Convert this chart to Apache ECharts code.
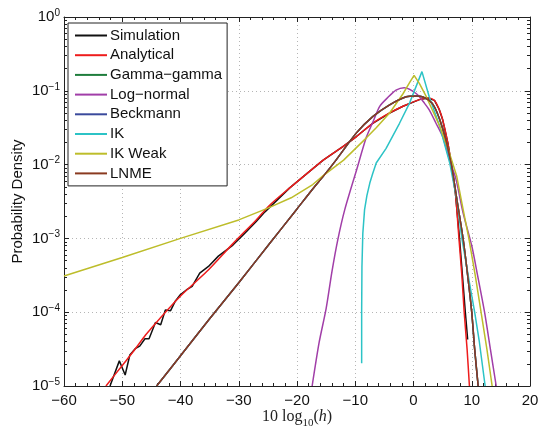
<!DOCTYPE html>
<html>
<head>
<meta charset="utf-8">
<script src="https://cdn.jsdelivr.net/npm/echarts@6/dist/echarts.min.js"></script>
<style>
html,body{margin:0;padding:0;background:#fff;}
#c{width:539px;height:428px;}
</style>
</head>
<body>
<div id="c"></div>
<script>
// ---- data (x in dB, y = probability density) ----
const simX = [-52.1,-50.5,-49.5,-48.7,-47.7,-47.0,-46.1,-45.4,-44.3,-43.4,-42.6,-41.7,-40.9,-40.1,-39.0,-38.0,-36.7,-35.2,-33.5,-31.0,-29.0,-27.0,-25.5,-21.3,-18,-15.5,-12,-9.8,-7,-4.1,-1.8,1.0,2.5,3.6,4.4,5.0,5.9,6.5,7.2,7.9,8.4,8.9,9.3];
const simY = [1.0e-5,2.19e-5,1.41e-5,2.63e-5,3.24e-5,3.47e-5,4.37e-5,4.37e-5,7.24e-5,6.76e-5,1.07e-4,1.05e-4,1.41e-4,1.70e-4,2.0e-4,2.24e-4,3.39e-4,4.17e-4,5.75e-4,8.13e-4,1.17e-3,1.70e-3,2.29e-3,4.8e-3,7.9e-3,1.15e-2,1.78e-2,2.4e-2,3.63e-2,5.0e-2,6.17e-2,7.59e-2,8.0e-2,7.41e-2,5.62e-2,4.07e-2,1.95e-2,1.0e-2,4.07e-3,1.0e-3,3.16e-4,1.0e-4,4.27e-5];

const anaX = [-52.8,-50,-48,-46,-43.5,-40,-35.5,-31,-27,-24.7,-21.3,-18,-15.5,-12,-9.8,-7,-4.1,-1.8,1.0,2.5,3.6,4.4,5.0,5.9,6.5,7.2,7.8,8.3,8.7,9.2,9.6];
const anaY = [1.0e-5,1.9e-5,3.0e-5,4.9e-5,8.3e-5,1.66e-4,3.55e-4,8.5e-4,1.78e-3,2.82e-3,4.8e-3,7.9e-3,1.15e-2,1.78e-2,2.4e-2,3.63e-2,5.01e-2,6.17e-2,7.59e-2,8.0e-2,7.41e-2,5.62e-2,4.07e-2,1.95e-2,1.0e-2,4.07e-3,1.0e-3,3.16e-4,1.0e-4,3.16e-5,1.0e-5];

// Gamma-gamma, Beckmann and LNME coincide in the reference
const lnmeX = [-44.1,-40,-35,-30,-24.7,-20.1,-17.3,-15.5,-13.3,-9.8,-7.0,-4.1,-1.25,0.5,1.5,2.7,3.6,4.5,5.5,6.5,7.4,8.5,9.3,10.0,10.5,11.1];
const lnmeY = [1.0e-5,2.57e-5,8.13e-5,2.51e-4,8.51e-4,2.45e-3,4.68e-3,6.92e-3,1.15e-2,2.69e-2,4.47e-2,6.46e-2,8.32e-2,8.51e-2,8.32e-2,7.41e-2,6.03e-2,4.07e-2,2.24e-2,1.0e-2,3.55e-3,1.0e-3,3.16e-4,1.0e-4,3.16e-5,1.0e-5];
const ggX = lnmeX, ggY = lnmeY;
const beckX = lnmeX, beckY = lnmeY;

const lnX = [-17.4,-16.2,-15.0,-14.0,-13.0,-11.8,-9.8,-8.1,-6.9,-5.8,-4.4,-3.0,-1.6,0.5,1.9,2.7,3.8,5.0,6.2,7.3,8.5,10.0,11.0,12.2,13.2,14.2];
const lnY = [1.0e-5,3.89e-5,1.12e-4,3.55e-4,9.55e-4,2.45e-3,8.32e-3,2.34e-2,3.89e-2,6.17e-2,8.13e-2,1.02e-1,1.10e-1,9.12e-2,6.76e-2,5.5e-2,3.72e-2,2.4e-2,1.15e-2,6.31e-3,2.24e-3,7.94e-4,3.16e-4,1.0e-4,3.16e-5,1.0e-5];

const ikX = [-8.9,-8.9,-8.85,-8.7,-8.4,-8.0,-7.5,-7.0,-6.4,-4.7,-2.4,-0.7,0.3,1.45,2.7,4.5,6.2,7.5,8.3,9.6,10.5,11.3,12.3];
const ikY = [2.04e-5,1.0e-4,4.17e-4,1.17e-3,2.45e-3,3.80e-3,5.62e-3,7.59e-3,1.05e-2,1.66e-2,3.63e-2,6.76e-2,1.07e-1,1.82e-1,8.32e-2,3.31e-2,1.07e-2,3.16e-3,1.0e-3,2.51e-4,1.0e-4,3.98e-5,1.0e-5];

const ikwX = [-60,-50,-40,-30,-25,-21,-17.3,-15.5,-12,-9.8,-8,-6.4,-4.1,-1.8,-0.6,0.1,1.0,2.2,4.5,6.0,7.4,8.5,9.5,10.6,11.6,12.6,13.5];
const ikwY = [3.09e-4,5.5e-4,1.0e-3,1.78e-3,2.57e-3,3.55e-3,5.37e-3,7.08e-3,1.15e-2,1.70e-2,2.34e-2,3.16e-2,5.01e-2,9.12e-2,1.32e-1,1.62e-1,1.26e-1,8.32e-2,3.31e-2,1.58e-2,7.08e-3,2.51e-3,1.0e-3,3.16e-4,1.0e-4,3.16e-5,1.0e-5];

const seriesNames = ['Simulation','Analytical','Gamma\u2212gamma','Log\u2212normal','Beckmann','IK','IK Weak','LNME'];
const seriesColors = ['#111111','#ee1c1c','#1f7d3c','#a13ea8','#3a4a9c','#2cc3c6','#bdbd2a','#8a3a20'];
const xTicks = [-60,-50,-40,-30,-20,-10,0,10,20];
const yMinorTicks = [];
[1e-5,1e-4,1e-3,1e-2,1e-1].forEach(d => { for (let m = 2; m <= 9; m++) yMinorTicks.push(+(m*d).toPrecision(3)); });

function pairs(xs, ys){ return xs.map((x,i)=>[x, ys[i]]); }
const allData = [pairs(simX,simY),pairs(anaX,anaY),pairs(ggX,ggY),pairs(lnX,lnY),pairs(beckX,beckY),pairs(ikX,ikY),pairs(ikwX,ikwY),pairs(lnmeX,lnmeY)];
const smoothFlags = [false,0.25,0.25,0.25,0.25,false,false,0.25];

const chart = echarts.init(document.getElementById('c'), null, {renderer:'canvas'});
const axisColor = '#222';
const gridLine = {show:true, lineStyle:{color:'#b5b5b5', type:[1,3], width:1}};
const sans = 'Liberation Sans, Arial, Helvetica, sans-serif';
const serif = 'Liberation Serif, DejaVu Serif, serif';

const xBase = {type:'value', min:-60, max:20, interval:10,
  axisLine:{show:true, onZero:false, lineStyle:{color:axisColor, width:1}},
  axisTick:{show:true, inside:true, length:5, lineStyle:{color:axisColor}},
  minorTick:{show:true, splitNumber:5, length:3, lineStyle:{color:axisColor}},
};
const yBase = {type:'log', logBase:10, min:1e-5, max:1,
  axisLine:{show:true, onZero:false, lineStyle:{color:axisColor, width:1}},
  axisTick:{show:true, inside:true, length:5, lineStyle:{color:axisColor}},
};

const option = {
  animation:false,
  backgroundColor:'#fff',
  grid:{left:64, right:9, top:17, bottom:42, containLabel:false, outerBoundsMode:'none'},
  legend:{
    orient:'vertical', left:68, top:23,
    data:seriesNames,
    itemWidth:32, itemHeight:14, itemGap:4.7,
    padding:[5,5,5,7],
    backgroundColor:'#fff', borderColor:'#222', borderWidth:1, borderRadius:0,
    textStyle:{fontFamily:sans, fontSize:15, color:'#111', padding:[0,0,0,-2]},
    icon:'path://M0,0L32,0L32,2L0,2Z'
  },
  xAxis:[
    Object.assign({}, xBase, {position:'bottom',
      splitLine:gridLine,
      axisLabel:{show:true, margin:7, fontFamily:sans, fontSize:15, color:'#111',
        formatter:v => (v<0 ? '\u2212'+Math.abs(v) : ''+v)},
      name:'{m|10 log}{sub|10}{m|(}{i|h}{m|)}', nameLocation:'middle', nameGap:31, nameMoveOverlap:false,
      nameTextStyle:{fontFamily:serif, fontSize:16, color:'#222', verticalAlign:'middle',
        rich:{m:{fontFamily:serif, fontSize:16, color:'#222', lineHeight:18},
              sub:{fontFamily:serif, fontSize:11, color:'#222', verticalAlign:'bottom', lineHeight:11, padding:[0,0,-3,0]},
              i:{fontFamily:serif, fontStyle:'italic', fontSize:16, color:'#222', lineHeight:18}}}
    }),
    Object.assign({}, xBase, {position:'top', splitLine:{show:false}, axisLabel:{show:false}})
  ],
  yAxis:[
    Object.assign({}, yBase, {position:'left', splitLine:gridLine,
      axisLabel:{show:true, margin:4, color:'#111',
        formatter:v => { const e = Math.round(Math.log10(v)); return '{b|10}{s|' + (e<0 ? '\u2212'+Math.abs(e) : ''+e) + '}'; },
        rich:{b:{fontFamily:sans, fontSize:15, color:'#111', lineHeight:18},
              s:{fontFamily:sans, fontSize:10, color:'#111', verticalAlign:'top', lineHeight:11}}},
      name:'Probability Density', nameLocation:'middle', nameGap:39, nameMoveOverlap:false,
      nameTextStyle:{fontFamily:sans, fontSize:15, color:'#111'}
    }),
    Object.assign({}, yBase, {position:'left', axisLine:{show:false, onZero:false}, splitLine:{show:false}, axisLabel:{show:false},
      axisTick:{show:true, inside:true, length:3, customValues:yMinorTicks, lineStyle:{color:axisColor}}}),
    Object.assign({}, yBase, {position:'right', splitLine:{show:false}, axisLabel:{show:false}}),
    Object.assign({}, yBase, {position:'right', axisLine:{show:false, onZero:false}, splitLine:{show:false}, axisLabel:{show:false},
      axisTick:{show:true, inside:true, length:3, customValues:yMinorTicks, lineStyle:{color:axisColor}}})
  ],
  series: seriesNames.map((n,i)=>({
    name:n, type:'line', xAxisIndex:0, yAxisIndex:0,
    data:allData[i], showSymbol:false, symbol:'none', smooth:smoothFlags[i],
    clip:true,
    lineStyle:{color:seriesColors[i], width:1.5},
    itemStyle:{color:seriesColors[i]}
  }))
};
chart.setOption(option);
</script>
</body>
</html>
